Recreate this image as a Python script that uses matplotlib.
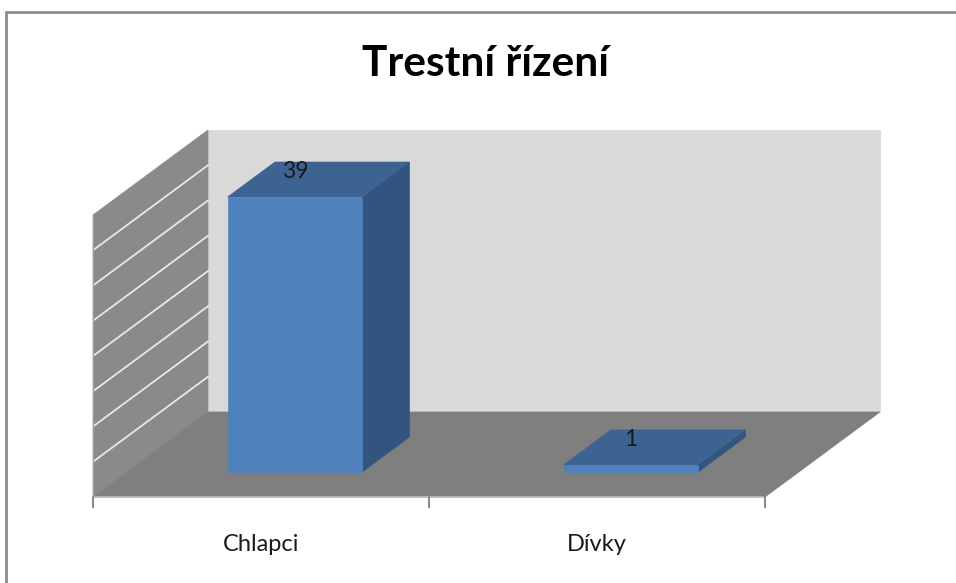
import matplotlib
matplotlib.use("Agg")
import matplotlib.pyplot as plt
from matplotlib.patches import Polygon, Rectangle

# data
categories = ["Chlapci", "Dívky"]
values = [39, 1]
title = "Trestní řízení"
y_max = 40
y_step = 5

# layout (pixel geometry of the fake 3D box)
W, H = 956, 583
X0_PX, Y0_PX = 93, 497      # front-left bottom corner of the floor
PX_CAT = 336                # px per category
PX_VAL = 7.05               # px per value unit
DX = 115 / PX_CAT           # depth offset in category units
DY = 85 / PX_VAL            # depth offset in value units
BAR_W = 0.4
D0, D1 = 0.294, 0.706       # bar front/back depth

plt.rcParams['font.family'] = ['Lato', 'DejaVu Sans']

fig = plt.figure(figsize=(W / 100, H / 100), dpi=100)
ax = fig.add_axes([0, 0, 1, 1])
ax.set_xlim(-X0_PX / PX_CAT, (W - X0_PX) / PX_CAT)
ax.set_ylim(-(H - Y0_PX) / PX_VAL, Y0_PX / PX_VAL)
ax.axis('off')

def P(x, y, d):
    return (x + d * DX, y + d * DY)

def face(pts, color, z=1):
    ax.add_patch(Polygon(pts, closed=True, facecolor=color, edgecolor=color, lw=0.5, zorder=z))

n = len(categories)

# walls and floor
face([P(0, 0, 1), P(n, 0, 1), P(n, y_max, 1), P(0, y_max, 1)], '#d9d9d9')
face([P(0, 0, 0), P(0, 0, 1), P(0, y_max, 1), P(0, y_max, 0)], '#8a8a8a')
face([P(0, 0, 0), P(n, 0, 0), P(n, 0, 1), P(0, 0, 1)], '#7f7f7f')

# gridlines on side wall
for v in range(y_step, y_max, y_step):
    a, b = P(0, v, 0), P(0, v, 1)
    ax.plot([a[0], b[0]], [a[1], b[1]], color='#e8e8e8', lw=1.3, zorder=2)

# floor front edge and ticks
ax.plot([0, n], [0, 0], color='#bfbfbf', lw=1.2, zorder=2)
ax.plot([0, 0], [0, y_max], color='#a0a0a0', lw=0.8, zorder=2)
for i in range(n + 1):
    ax.plot([i, i], [0, -10 / PX_VAL], color='#8c8c8c', lw=1.5, zorder=2)

# bars
for i, v in enumerate(values):
    x0, x1 = i + 0.5 - BAR_W / 2, i + 0.5 + BAR_W / 2
    face([P(x1, 0, D0), P(x1, 0, D1), P(x1, v, D1), P(x1, v, D0)], '#32547e', 3)
    face([P(x0, v, D0), P(x1, v, D0), P(x1, v, D1), P(x0, v, D1)], '#3c6392', 3)
    face([P(x0, 0, D0), P(x1, 0, D0), P(x1, v, D0), P(x0, v, D0)], '#4f81bd', 4)
    ax.annotate(str(v), xy=P(i + 0.5, v, D0), xytext=(0, 18.5), textcoords='offset points',
                ha='center', va='center', fontsize=16.5, color='#1a1a1a', zorder=5)
    ax.annotate(categories[i], xy=(i + 0.5, 0), xytext=(0, -34), textcoords='offset points',
                ha='center', va='center', fontsize=17, color='#1a1a1a')

fig.text(485 / W, 1 - 64 / H, title, ha='center', va='center',
         fontsize=30.5, fontweight='bold', color='black')

# chart frame
fig.add_artist(Rectangle((6 / W, -0.1), 1.2, 1 - 12 / H + 0.1, transform=fig.transFigure,
                         fill=False, edgecolor='#8c8c8c', lw=2))

fig.savefig('out.png', dpi=100)
